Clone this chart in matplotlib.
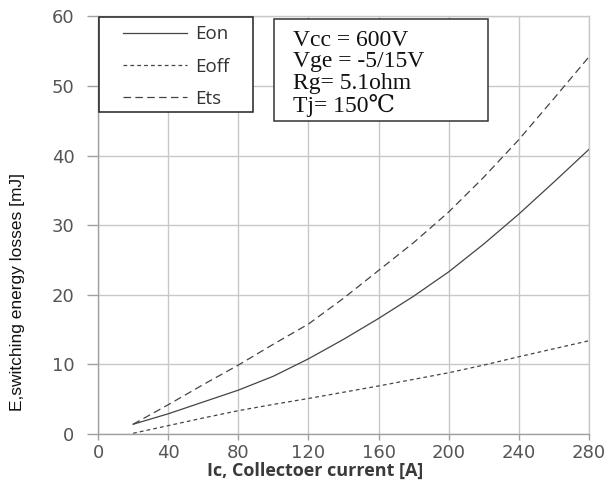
import matplotlib
matplotlib.use("Agg")
import matplotlib.pyplot as plt
from matplotlib.patches import Rectangle

# collector current [A]
ic = [20, 40, 60, 80, 100, 120, 140, 160, 180, 200, 220, 240, 260, 280]
# switching energies [mJ]
e_on = [1.4, 2.9, 4.6, 6.3, 8.3, 10.8, 13.6, 16.6, 19.8, 23.3, 27.3, 31.6, 36.2, 40.9]
e_off = [0.1, 1.2, 2.3, 3.35, 4.25, 5.1, 6.0, 6.9, 7.85, 8.8, 9.9, 11.1, 12.25, 13.4]
e_ts = [1.4, 4.2, 7.1, 9.9, 12.9, 15.8, 19.5, 23.5, 27.5, 31.9, 36.9, 42.3, 48.2, 54.2]

x_ticks = [0, 40, 80, 120, 160, 200, 240, 280]
y_ticks = [0, 10, 20, 30, 40, 50, 60]
cond_text = "Vcc = 600V\nVge = -5/15V\nRg= 5.1ohm\nTj= 150\u2103"

line_col = "#444444"
grid_col = "#c8c8c8"

fig = plt.figure(figsize=(6.1, 4.82), dpi=100)
ax = fig.add_axes([0.1607, 0.0996, 0.8049, 0.8664])

ax.plot(ic, e_on, color=line_col, lw=0.9, label="Eon")
ax.plot(ic, e_off, color=line_col, lw=0.9, dashes=(3, 2.5), label="Eoff")
ax.plot(ic, e_ts, color=line_col, lw=0.9, dashes=(6, 3.5), label="Ets")

ax.set_xlim(0, 280)
ax.set_ylim(0, 60)
ax.set_xticks(x_ticks)
ax.set_yticks(y_ticks)
ax.grid(True, color=grid_col, lw=1)
ax.set_axisbelow(True)
for sp in ax.spines.values():
    sp.set_color(grid_col)
    sp.set_linewidth(1)
ax.spines["left"].set_color("#a0a0a0")
ax.spines["bottom"].set_color("#a0a0a0")

ax.tick_params(axis="y", length=8, width=1, color="#a0a0a0", pad=9,
               labelsize=13, labelcolor="#555555")
ax.tick_params(axis="x", length=4, width=1, color="#a0a0a0", pad=3,
               labelsize=13, labelcolor="#555555")
for lab in ax.get_xticklabels() + ax.get_yticklabels():
    lab.set_family("DejaVu Sans")

ax.set_xlabel("Ic, Collectoer current [A]", fontsize=13, fontweight="bold",
              family="Open Sans", color="#3a3a3a", va="center")
ax.xaxis.set_label_coords(0.442, -0.089)
ax.set_ylabel("E,switching energy losses [mJ]", fontsize=12.5,
              family=["Liberation Sans Narrow", "Liberation Sans"], color="#111111")
ax.yaxis.set_label_coords(-0.148, 0.34)

# legend: frame drawn separately so the entries sit centred in the box
ax.add_patch(Rectangle((0.002, 0.771), 0.314, 0.228, transform=ax.transAxes,
                       fc="white", ec="#222222", lw=1.1, zorder=4))
leg = ax.legend(loc="center", bbox_to_anchor=(0.159, 0.88), frameon=False,
                prop={"family": "Open Sans", "size": 13.5},
                handlelength=3.4, handletextpad=0.45, labelspacing=0.75,
                borderpad=0)
leg.set_zorder(5)
for t in leg.get_texts():
    t.set_color("#333333")

# test conditions box
ax.add_patch(Rectangle((0.358, 0.750), 0.436, 0.244, transform=ax.transAxes,
                       fc="white", ec="#333333", lw=1.1, zorder=4))
ax.text(0.397, 0.968, cond_text, transform=ax.transAxes, ha="left", va="top",
        fontsize=17, family=["Liberation Serif", "DejaVu Serif", "DejaVu Sans"],
        color="#111111", linespacing=1.03, zorder=5)

fig.savefig("out.png", dpi=100)
